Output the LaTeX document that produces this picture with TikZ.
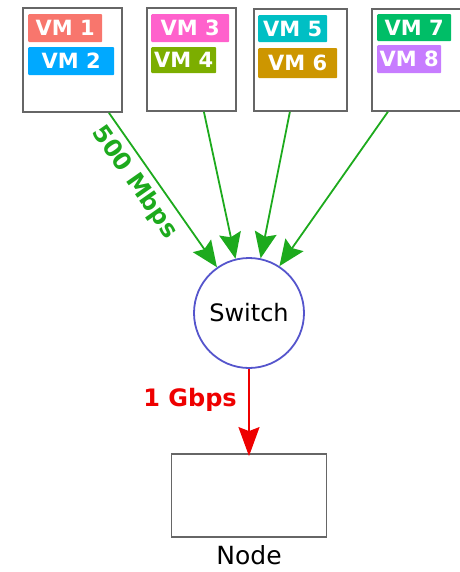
\documentclass[tikz,border=0pt]{standalone}
\usepackage{fontspec}
\setmainfont{DejaVu Sans}
\usetikzlibrary{arrows.meta}

\definecolor{vmred}{HTML}{F8766D}
\definecolor{vmblue}{HTML}{00A9FF}
\definecolor{vmpink}{HTML}{FF61CC}
\definecolor{vmolive}{HTML}{7CAE00}
\definecolor{vmcyan}{HTML}{00BFC4}
\definecolor{vmgold}{HTML}{CD9600}
\definecolor{vmgreen}{HTML}{00BE67}
\definecolor{vmviolet}{HTML}{C77CFF}
\definecolor{linkgreen}{HTML}{1DAA1D}
\definecolor{linkred}{HTML}{EE0000}
\definecolor{switchblue}{HTML}{5555CC}

\tikzset{
  host/.style   ={draw=black!60, line width=1.8pt, anchor=north west, inner sep=0pt},
  vm/.style     ={text=white, anchor=north west, inner sep=0pt, minimum height=28pt,
                  rounded corners=1pt, font=\fontsize{21}{24}\selectfont\bfseries},
  switchnode/.style={circle, draw=switchblue, line width=1.8pt, minimum size=110pt,
                  font=\fontsize{24}{28}\selectfont},
  link/.style   ={draw=linkgreen, line width=1.8pt,
                  -{Stealth[length=26pt, width=22pt, inset=4pt]}},
  uplink/.style ={draw=linkred, line width=1.8pt,
                  -{Stealth[length=29pt, width=21pt, inset=4pt]}},
  rate/.style   ={font=\fontsize{24}{28}\selectfont\bfseries}
}

\begin{document}
\begin{tikzpicture}[x=1pt, y=-1pt]
    \useasboundingbox (0,0) rectangle (459,572);

    % hosts
    \node[host, minimum width=99pt, minimum height=104pt] (host1) at (22,7) {};
    \node[host, minimum width=89pt, minimum height=103pt] (host2) at (146,7) {};
    \node[host, minimum width=93pt, minimum height=102pt] (host3) at (253,8) {};
    \node[host, minimum width=95pt, minimum height=102pt] (host4) at (371,8) {};

    % virtual machines
    \node[vm, fill=vmred,    minimum width=74pt] (vm1) at (28,14)  {VM 1};
    \node[vm, fill=vmblue,   minimum width=86pt] (vm2) at (28,47)  {VM 2};
    \node[vm, fill=vmpink,   minimum width=78pt] (vm3) at (151,14) {VM 3};
    \node[vm, fill=vmolive,  minimum width=65pt, minimum height=26pt] (vm4) at (151,47) {VM 4};
    \node[vm, fill=vmcyan,   minimum width=69pt, minimum height=27pt] (vm5) at (258,15) {VM 5};
    \node[vm, fill=vmgold,   minimum width=79pt, minimum height=30pt] (vm6) at (258,48) {VM 6};
    \node[vm, fill=vmgreen,  minimum width=74pt, minimum height=27pt] (vm7) at (377,14) {VM 7};
    \node[vm, fill=vmviolet, minimum width=64pt] (vm8) at (377,45) {VM 8};

    % switch and node
    \node[switchnode] (switch) at (249,313) {Switch};
    \node[draw=black!60, line width=1.8pt, minimum width=155pt, minimum height=83pt,
          label={[font=\fontsize{25}{28}\selectfont, yshift=-4pt]below:Node}]
          (node) at (249,495.5) {};

    % links from the hosts
    \draw[link] ([xshift=36.5pt]host1.south) -- (switch.125)
        node[rate, text=linkgreen, sloped, below, pos=0.38, yshift=-3pt] {500 Mbps};
    \draw[link] ([xshift=12.5pt]host2.south) -- (switch.104);
    \draw[link] ([xshift=-10.5pt]host3.south) -- (switch.78);
    \draw[link] ([xshift=-31.5pt]host4.south) -- (switch.57);

    % uplink to the node
    \draw[uplink] (switch.south) -- ([yshift=-3pt]node.north)
        node[rate, text=linkred, left, pos=0.35, xshift=-8pt] {1 Gbps};
\end{tikzpicture}
\end{document}
